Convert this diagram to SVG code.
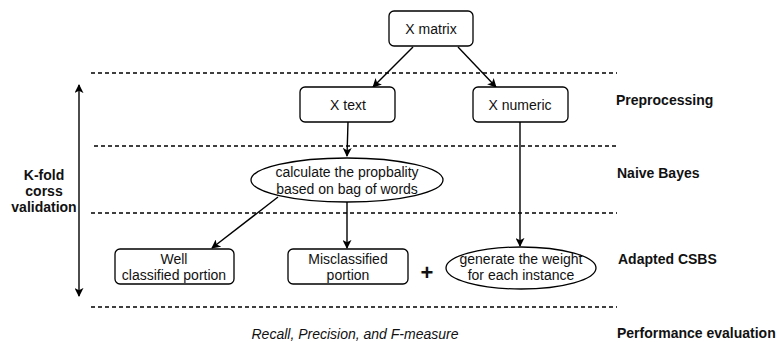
<svg xmlns="http://www.w3.org/2000/svg" width="779" height="342" viewBox="0 0 779 342">
<style>
.box{fill:#fff;stroke:#000;stroke-width:1.3}
.t{font-family:"Liberation Sans",Arial,sans-serif;font-size:14px;fill:#111;text-anchor:middle}
.b{font-family:"Liberation Sans",Arial,sans-serif;font-size:14px;font-weight:bold;fill:#111}
.dash{stroke:#000;stroke-width:1.5;stroke-dasharray:4 3;fill:none}
.c{stroke:#000;stroke-width:1.4;fill:none;marker-end:url(#ah)}
</style>
<defs>
<marker id="ah" viewBox="0 0 10 10" refX="9" refY="5" markerWidth="9" markerHeight="9" markerUnits="userSpaceOnUse" orient="auto">
<path d="M0,0 L10,5 L0,10 L2.5,5 z" fill="#000"/>
</marker>
</defs>
<rect width="779" height="342" fill="#fff"/>
<g id="separators">
<line class="dash" x1="91" y1="73" x2="617" y2="73"/>
<line class="dash" x1="94" y1="146" x2="619" y2="146"/>
<line class="dash" x1="91" y1="213" x2="617" y2="213"/>
<line class="dash" x1="91" y1="307" x2="617" y2="307"/>
</g>
<g id="connectors">
<line class="c" x1="413" y1="47" x2="373" y2="87"/>
<line class="c" x1="458" y1="47" x2="496" y2="87"/>
<line class="c" x1="348" y1="122" x2="347" y2="156"/>
<line class="c" x1="520" y1="122" x2="520" y2="246"/>
<line class="c" x1="278" y1="197" x2="212" y2="248"/>
<line class="c" x1="347" y1="202" x2="347" y2="248"/>
<line class="c" x1="79" y1="160" x2="79" y2="85"/>
<line class="c" x1="79" y1="160" x2="79" y2="296"/>
</g>
<g id="xmatrix"><rect class="box" x="389" y="11" width="84" height="35" rx="5"/><text class="t" x="431" y="34">X matrix</text></g>
<g id="xtext"><rect class="box" x="300" y="87" width="95" height="35" rx="5"/><text class="t" x="348" y="110">X text</text></g>
<g id="xnumeric"><rect class="box" x="473" y="87" width="95" height="35" rx="5"/><text class="t" x="520" y="110">X numeric</text></g>
<g id="calc"><ellipse class="box" cx="347" cy="180" rx="96" ry="22"/><text class="t" x="347" y="177">calculate the propbality</text><text class="t" x="347" y="194">based on bag of words</text></g>
<g id="well"><rect class="box" x="115" y="249" width="119" height="35" rx="5"/><text class="t" x="174" y="264">Well</text><text class="t" x="174" y="280">classified portion</text></g>
<g id="mis"><rect class="box" x="288" y="249" width="120" height="35" rx="5"/><text class="t" x="348" y="264">Misclassified</text><text class="t" x="348" y="280">portion</text></g>
<g id="plus"><text class="t" x="427" y="280" style="font-size:22px;font-weight:bold">+</text></g>
<g id="gen"><ellipse class="box" cx="521" cy="268" rx="75" ry="21"/><text class="t" x="521" y="264">generate the weight</text><text class="t" x="521" y="280">for each instance</text></g>
<g id="labels">
<text class="b" x="616" y="105">Preprocessing</text>
<text class="b" x="617" y="178">Naive Bayes</text>
<text class="b" x="618" y="264">Adapted CSBS</text>
<text class="b" x="617" y="338">Performance evaluation</text>
<text class="b" x="44" y="180" text-anchor="middle">K-fold</text>
<text class="b" x="44" y="196" text-anchor="middle">corss</text>
<text class="b" x="44" y="212" text-anchor="middle">validation</text>
<text class="t" x="355" y="339" style="font-style:italic">Recall, Precision, and F-measure</text>
</g>
</svg>
